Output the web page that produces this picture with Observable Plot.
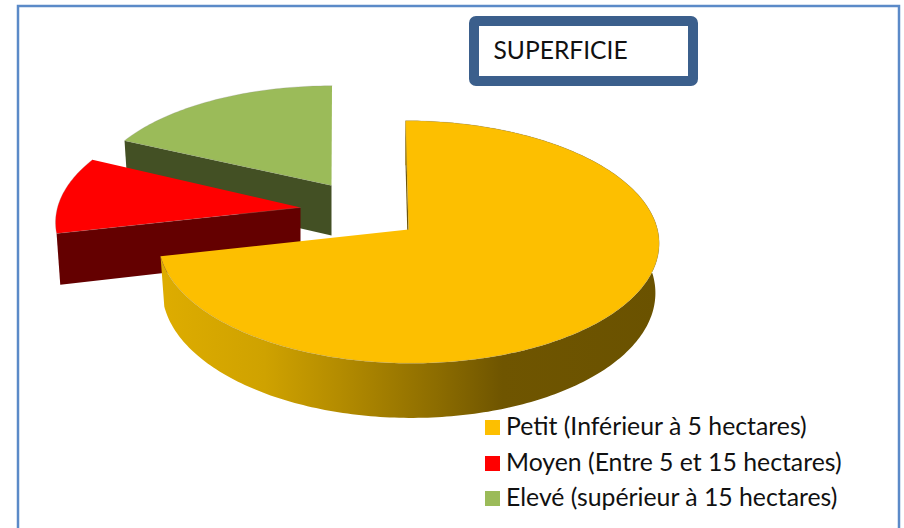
<!DOCTYPE html>
<html><head><meta charset="utf-8">
<style>html,body{margin:0;padding:0;background:#fff;overflow:hidden}svg{display:block}</style>
<script src="https://cdn.jsdelivr.net/npm/d3@7"></script>
<script src="https://cdn.jsdelivr.net/npm/@observablehq/plot@0.6"></script>
</head><body><div id="chart"></div>
<script>
// --- data ---
const categories = ["Petit (Inférieur à 5 hectares)", "Moyen (Entre 5 et 15 hectares)", "Elevé (supérieur à 15 hectares)"];
const shares = [71.5, 10.5, 18];
const title = "SUPERFICIE";
// --- styles ---
const faceColors = ["#FDBF00", "#FF0000", "#9BBB59"];
const wallColors = ["#6B5200", "#640000", "#435024"];
const rimStops = [[0, "#DDAC00"], [0.2, "#CFA200"], [0.35, "#B48C00"], [0.55, "#8C6C00"], [0.68, "#6F5500"], [1, "#6A5200"]];
// --- 3D pie layout: apex, radii, depth for each exploded wedge ---
const wedgeLayout = [
  {ax: 408, ay: 229, rx: 249, ry: 120, depth: 49, skew: 3},
  {ax: 300, ay: 207, rx: 243, ry: 117, depth: 50, skew: -6},
  {ax: 331, ay: 185, rx: 239, ry: 110, depth: 50, skew: -0.5}
];
const perspective = 0.103, shrink = 0.985, deg = Math.PI / 180;
const pie = d3.pie().sort(null).value(d => d)(shares);

function topPoint(l, t, r = 1) {
  const u = Math.sin(t) * r, v = -Math.cos(t) * r, s = 1 / (1 - perspective * v);
  return {x: l.ax + l.rx * u * s + l.skew * v, y: l.ay + l.ry * v * s, s};
}
function bottomPoint(l, t, r = 1) {
  const p = topPoint(l, t, r);
  return {x: l.ax + (p.x - l.ax) * shrink, y: p.y + l.depth * p.s};
}
function arcAngles(a0, a1) {
  const n = Math.ceil(Math.abs(a1 - a0) / deg);
  return d3.range(n + 1).map(i => a0 + (a1 - a0) * i / n);
}
function facePoly(i) {
  const l = wedgeLayout[i], {startAngle: a0, endAngle: a1} = pie[i];
  return [{x: l.ax, y: l.ay}, ...arcAngles(a0, a1).map(t => topPoint(l, t))];
}
function edgeWall(i, t) {
  const l = wedgeLayout[i];
  return [{x: l.ax, y: l.ay}, topPoint(l, t), bottomPoint(l, t), {x: l.ax, y: l.ay + l.depth}];
}
function rimPoly(i) {
  const l = wedgeLayout[i], as = arcAngles(pie[i].startAngle, pie[i].endAngle);
  return [...as.map(t => topPoint(l, t)), ...as.slice().reverse().map(t => bottomPoint(l, t))];
}
const poly = (pts, fill, extra = {}) => Plot.line(pts, {x: "x", y: "y", fill, stroke: "none", ...extra});
const faceEdge = {stroke: "#8a8a8a", strokeWidth: 0.6, strokeOpacity: 0.4};

const frame = [{x1: 18, x2: 899, y1: 6, y2: 545}];
const titleBox = [{x1: 474, x2: 693, y1: 21, y2: 81, x: 493, y: 50.5, label: title}];
const legend = categories.map((c, i) => ({
  label: c, x1: 485, x2: 500,
  y1: [420, 456, 491][i], y2: [435, 471, 506][i],
  tx: 505.5, ty: [427, 463, 498][i]
}));

const rimGradient = () => {
  const defs = d3.create("svg:defs");
  const g = defs.append("linearGradient").attr("id", "rim").attr("gradientUnits", "userSpaceOnUse")
    .attr("x1", 165).attr("x2", 660).attr("y1", 0).attr("y2", 0);
  rimStops.forEach(([o, c]) => g.append("stop").attr("offset", o).attr("stop-color", c));
  return defs.node();
};

const plot = Plot.plot({
  width: 904, height: 528,
  marginTop: 0, marginRight: 0, marginBottom: 0, marginLeft: 0,
  x: {domain: [0, 904], range: [0, 904], axis: null},
  y: {domain: [0, 528], range: [0, 528], axis: null},
  color: {domain: categories, range: faceColors},
  style: {background: "#fff", fontFamily: "Lato"},
  marks: [
    rimGradient,
    Plot.rect(frame, {x1: "x1", x2: "x2", y1: "y1", y2: "y2", fill: "#fff", stroke: "#5B8AC8", strokeWidth: 2.5}),
    // Elevé
    poly(edgeWall(2, pie[2].startAngle), wallColors[2]),
    poly(facePoly(2), faceColors[2], faceEdge),
    // Moyen
    poly(edgeWall(1, pie[1].startAngle), wallColors[1]),
    poly(facePoly(1), faceColors[1], faceEdge),
    // Petit
    poly(edgeWall(0, pie[0].startAngle), wallColors[0]),
    poly(rimPoly(0), "url(#rim)"),
    poly(facePoly(0), faceColors[0], faceEdge),
    // title box
    Plot.rect(titleBox, {x1: "x1", x2: "x2", y1: "y1", y2: "y2", fill: "#fff", stroke: "#3B5F8C", strokeWidth: 10, rx: 2}),
    Plot.text(titleBox, {x: "x", y: "y", text: "label", textAnchor: "start", fontSize: 24.6, fill: "#111"}),
    // legend
    Plot.rect(legend, {x1: "x1", x2: "x2", y1: "y1", y2: "y2", fill: "label"}),
    Plot.text(legend, {x: "tx", y: "ty", text: "label", textAnchor: "start", fontSize: 24.8, fill: "#111"})
  ]
});
document.getElementById("chart").append(plot);
</script></body></html>
